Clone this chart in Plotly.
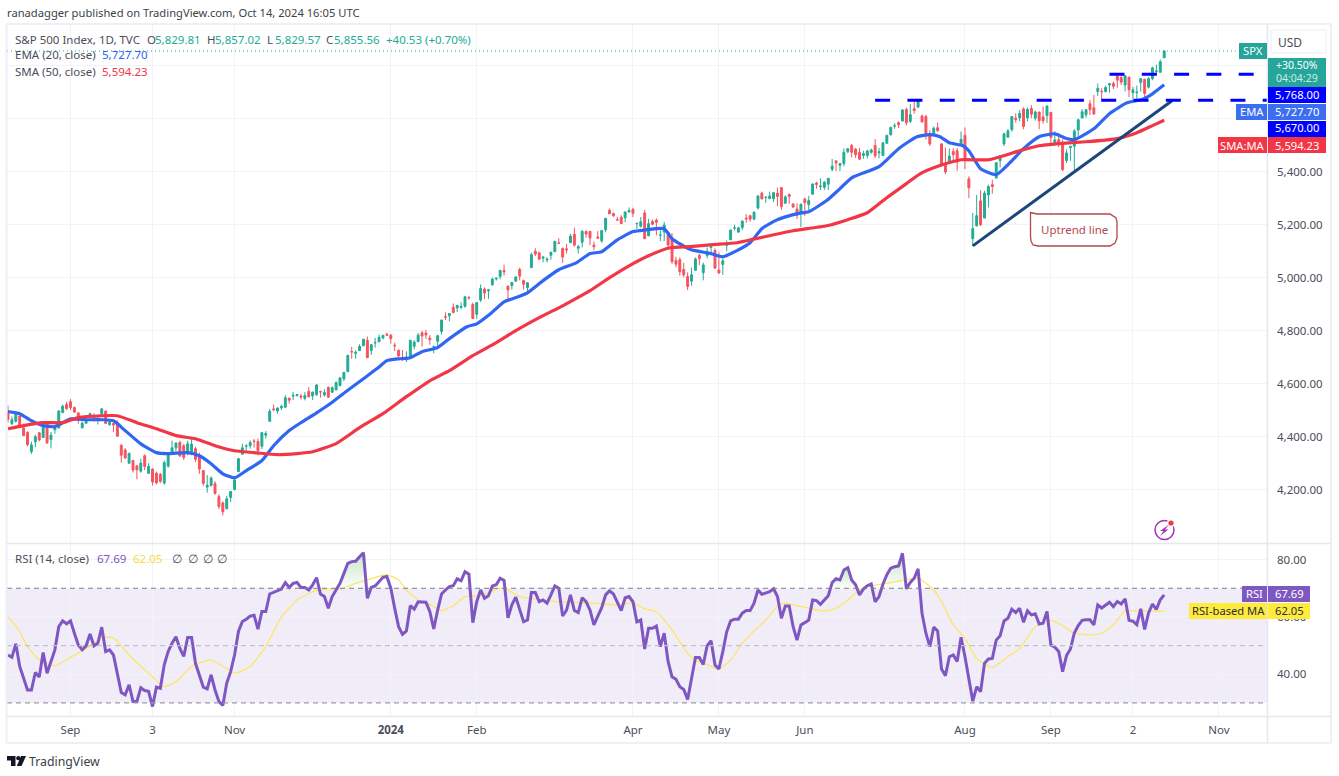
import plotly.graph_objects as go

W, H = 1339, 776
BAR_PX, BAR0_PX = 3.906, 8.0
UP, DOWN = "#22ab94", "#f7525f"
FONT = "Noto Sans"
DARK = "#4a4e59"

opens = [
 4490,4450,4458,4478,4433,4416,4344,4380,4415,4397,4455,4389,4426,4433,4491,4522,
 4532,4510,4490,4434,4451,4480,4473,4463,4487,4497,4445,4450,4453,4368,4350,4300,4310,4290,4270,4328,
 4262,4278,4262,4258,4225,4289,4339,4358,4378,4366,4336,4340,4355,4326,4272,4210,4216,4223,4174,4150,4128,4171,
 4201,4268,4334,4364,4366,4384,4382,4364,4406,4458,4505,4497,4509,4511,4545,4553,4555,4554,4545,4571,4554,
 4559,4570,4557,4586,4568,4577,4593,4618,4646,4721,4714,4725,4743,4764,4725,4754,4758,4773,4786,4783,
 4745,4726,4697,4690,4703,4741,4759,4792,4791,4772,4739,4760,4797,4853,4856,4888,4886,4888,4892,4925,4899,
 4862,4916,4957,4950,4973,4995,5005,5027,4968,4970,4987,5031,4989,4963,5038,5100,5094,5074,5067,5085,
 5098,5131,5110,5109,5132,5164,5111,5134,5174,5175,5123,5154,5139,5181,5254,5242,5219,5228,5226,5248,
 5258,5204,5194,5244,5158,5212,5217,5160,5172,5171,5150,5065,5068,5031,5005,4987,5028,5084,5019,5084,5114,5103,
 5029,5050,5122,5143,5187,5172,5189,5225,5234,5221,5263,5319,5303,5298,5298,5319,5340,5281,5315,5278,5259,5243,
 5297,5276,5315,5357,5343,5341,5353,5409,5441,5424,5431,5476,5499,5485,5473,5461,5461,5473,5499,
 5471,5461,5507,5539,5572,5585,5591,5635,5590,5638,5644,5610,5608,5543,5545,5566,5505,5429,5434,5476,5479,5505,
 5537,5373,5147,5196,5290,5225,5312,5351,5376,5442,5505,5530,5558,5602,5603,5637,5603,5639,5602,5625,5607,5612,
 5624,5506,5521,5508,5442,5491,5496,5557,5603,5615,5656,5641,5703,5703,5702,5727,5733,5762,5755,5727,
 5757,5698,5698,5737,5749,5719,5751,5778,5775,5829.81]
closes = [
 4465,4464,4489,4437,4404,4370,4369,4400,4388,4436,4376,4406,4433,4497,4515,4506,
 4510,4493,4465,4451,4458,4487,4462,4467,4505,4450,4454,4444,4402,4330,4320,4337,4274,4275,4300,4288,
 4288,4229,4226,4232,4302,4336,4358,4376,4327,4322,4373,4372,4314,4278,4224,4217,4244,4186,4137,4117,4166,4193,
 4237,4317,4358,4365,4378,4382,4347,4415,4412,4496,4502,4508,4514,4547,4538,4556,4559,4550,4555,4551,4568,
 4595,4569,4567,4549,4585,4604,4622,4643,4707,4720,4719,4741,4768,4698,4747,4755,4775,4782,4783,4770,
 4743,4705,4689,4697,4764,4757,4783,4780,4784,4766,4740,4781,4840,4851,4865,4869,4895,4891,4928,4924,4846,
 4906,4959,4942,4954,4995,4998,5027,5022,4954,4982,5003,5006,4975,4981,5087,5089,5070,5078,5070,5096,
 5137,5130,5078,5105,5157,5123,5117,5175,5165,5150,5117,5149,5178,5224,5241,5234,5218,5204,5248,5254,
 5243,5205,5211,5147,5204,5202,5209,5161,5199,5123,5061,5051,5022,5011,4967,5011,5071,5072,5048,5100,5116,5036,
 5018,5064,5128,5180,5188,5188,5214,5222,5221,5247,5308,5297,5304,5308,5321,5307,5268,5305,5306,5267,5235,5277,
 5283,5291,5354,5352,5346,5360,5375,5421,5433,5431,5473,5487,5473,5464,5447,5469,5478,5482,5460,
 5475,5509,5537,5567,5573,5577,5633,5585,5615,5631,5667,5588,5544,5505,5564,5555,5427,5399,5459,5464,5436,5522,
 5446,5339,5185,5234,5200,5319,5344,5344,5434,5455,5543,5554,5608,5597,5620,5571,5635,5617,5625,5592,5592,5648,
 5529,5520,5503,5408,5471,5496,5554,5596,5626,5634,5634,5618,5714,5702,5718,5732,5722,5745,5738,5762,
 5709,5709,5700,5751,5695,5751,5792,5780,5815,5855.56]
highs = [
 4517,4476,4490,4478,4449,4421,4381,4408,4418,4443,4458,4418,4440,4500,4521,4532,
 4542,4514,4491,4457,4473,4490,4488,4474,4509,4497,4467,4452,4462,4372,4357,4340,4313,4292,4317,4333,
 4300,4281,4268,4263,4310,4341,4385,4378,4385,4372,4385,4395,4362,4340,4274,4255,4250,4232,4183,4156,4177,4195,
 4245,4320,4373,4372,4386,4391,4393,4418,4421,4505,4521,4511,4521,4557,4548,4569,4560,4561,4568,4587,4570,
 4599,4574,4579,4590,4590,4609,4623,4643,4709,4739,4726,4749,4768,4778,4749,4773,4785,4785,4793,4788,
 4755,4729,4727,4722,4764,4765,4791,4799,4803,4783,4744,4785,4842,4869,4866,4903,4898,4907,4930,4931,4906,
 4906,4975,4963,4958,5000,5000,5030,5049,4971,4983,5005,5038,4993,4983,5094,5111,5098,5080,5077,5098,
 5140,5149,5114,5127,5165,5189,5124,5179,5179,5176,5136,5176,5180,5226,5261,5246,5230,5236,5249,5265,
 5264,5208,5229,5256,5222,5219,5224,5178,5211,5175,5168,5079,5077,5056,5020,5038,5076,5090,5057,5114,5124,5111,
 5096,5073,5140,5181,5200,5192,5215,5240,5238,5250,5312,5325,5305,5325,5324,5340,5342,5311,5315,5282,5281,5280,
 5302,5309,5354,5362,5375,5365,5376,5448,5441,5432,5488,5487,5505,5490,5490,5479,5483,5487,5523,
 5490,5510,5540,5570,5583,5590,5636,5642,5655,5670,5670,5616,5615,5557,5570,5586,5508,5491,5488,5488,5489,5552,
 5567,5383,5245,5312,5330,5328,5351,5370,5436,5463,5547,5561,5608,5620,5633,5643,5642,5651,5631,5627,5646,5649,
 5624,5553,5546,5522,5484,5497,5560,5600,5636,5636,5670,5690,5733,5715,5725,5735,5741,5767,5764,5765,
 5757,5720,5725,5753,5749,5757,5796,5804,5823,5857.02]
lows = [
 4453,4443,4453,4432,4403,4364,4335,4360,4382,4396,4375,4356,4411,4431,4489,4500,
 4501,4490,4449,4431,4448,4468,4457,4446,4475,4448,4442,4417,4401,4302,4316,4298,4265,4239,4264,4274,
 4260,4216,4220,4225,4219,4283,4339,4345,4325,4312,4330,4330,4305,4260,4215,4189,4212,4181,4127,4103,4126,4153,
 4197,4268,4334,4347,4355,4359,4329,4353,4393,4458,4496,4487,4500,4511,4525,4538,4552,4541,4537,4548,4538,
 4554,4547,4551,4546,4565,4574,4590,4610,4643,4694,4694,4725,4743,4697,4709,4736,4758,4767,4780,4751,
 4723,4700,4687,4682,4699,4730,4756,4740,4769,4747,4715,4740,4786,4840,4835,4865,4870,4881,4887,4917,4845,
 4845,4908,4919,4920,4970,4989,4994,5008,4920,4955,4985,4990,4955,4946,5038,5081,5068,5058,5058,5068,
 5097,5127,5056,5091,5132,5117,5091,5114,5151,5123,5104,5148,5131,5171,5240,5229,5216,5203,5209,5246,
 5229,5184,5189,5146,5157,5197,5160,5138,5138,5108,5052,5039,5007,5001,4953,4970,5028,5047,4990,5073,5088,5035,
 5014,5011,5100,5143,5179,5170,5180,5207,5211,5217,5257,5297,5283,5298,5286,5270,5256,5279,5279,5262,5222,5191,
 5234,5256,5314,5336,5331,5331,5331,5402,5403,5403,5420,5470,5455,5452,5446,5449,5450,5468,5451,
 5451,5461,5507,5537,5562,5565,5591,5575,5583,5619,5640,5585,5522,5497,5541,5550,5419,5390,5430,5444,5403,5505,
 5410,5300,5120,5193,5195,5225,5265,5317,5376,5416,5497,5530,5551,5585,5591,5560,5590,5602,5593,5560,5581,5584,
 5504,5504,5493,5402,5434,5441,5406,5535,5601,5604,5614,5615,5686,5674,5700,5698,5712,5717,5727,5703,
 5681,5674,5675,5702,5674,5714,5745,5765,5775,5829.57]
assert len(opens) == len(closes) == len(highs) == len(lows) == 297
bars = list(range(len(closes)))

ema_idx = [0,3,6,9,12,16,20,24,27,30,34,38,41,46,49,52,55,58,61,65,68,72,75,79,83,87,91,94.5,97,100,103,106,110,113,117.5,120,123.5,127,130,133,137,141,145.6,149,152,156,160,163,168,170,174.7,180,183,186.6,190,193,197,202,205,209.6,213,216,223,228,232.7,236,238.6,241,244.5,246,249,253,256.5,260,264,268,271,273,278,282,286.5,290.3,293,296]
ema_val = [4495,4487,4460,4442,4438,4467,4464,4464,4460,4423,4373,4340,4336,4340,4328,4298,4260,4245,4272,4310,4366,4423,4453,4490,4530,4575,4619,4657,4687,4694,4698,4721,4736,4770,4815,4826,4864,4909,4925,4943,4989,5030,5057,5091,5098,5143,5174,5180,5185,5147,5106,5091,5079,5102,5132,5185,5219,5242,5249,5291,5336,5377,5419,5487,5532,5540,5532,5509,5498,5479,5411,5389,5434,5487,5532,5543,5525,5521,5562,5619,5660,5672,5694,5727.7]
sma_idx = [0,4,9,14,18,24,28,33,38,43,48,53,58,63,69,74,78,84,90,96,102,108,113,119,125,130,136,142,149,154,159,164,169.5,174.6,180.5,186.6,196,201,209.6,215,220,225,230,233.5,238.6,244,251,259,264,269,276,284,289,293,296]
sma_val = [4430,4442,4453,4453,4472,4479,4479,4453,4430,4404,4392,4366,4347,4340,4332,4336,4343,4374,4434,4487,4551,4611,4649,4706,4755,4800,4849,4894,4951,5000,5045,5083,5113,5117,5125,5132,5162,5177,5196,5219,5245,5302,5355,5392,5423,5445,5445,5479,5498,5506,5513,5525,5547,5574,5594.23]

rsi = [
 46.7,45.9,50.6,42.7,38.6,34.5,34.5,40.6,39,47.6,40.3,44.8,48.5,56.6,58.6,57.6,58.6,54.3,50.2,48.5,
 49.9,54,49.9,50.8,56.4,47.9,48.5,46.7,40.3,33.6,32.8,36.3,30.5,30.5,35.3,34.3,34,28.7,35.5,35.1,
 43.3,47.9,50.8,53.1,49,46.2,52.8,52.8,43.8,39.8,35.5,34.9,39.8,34.5,30.5,29.1,36.9,40.9,46.7,54.9,
 58.4,59.2,60.3,60.6,55.7,61.9,61.9,68,68.6,69.1,69.7,72,70.3,71.7,72,70.3,70.3,69.4,71.2,73.7,
 68,67.1,63,67.1,69.4,71.7,75.2,78.7,79.3,79.4,81,82.4,66.5,70.3,70.8,72.3,73.8,74.1,70,63,
 56.6,53.9,55.1,63.9,62.7,65.3,65.1,65.1,61.8,55.8,62.4,68,69.4,70.6,70.9,73.3,72.6,75.8,74.9,58,
 65.3,69.4,66.5,67.4,70.8,71.2,73.5,72.7,59.7,64.2,66.9,62.4,58.3,58.9,68.5,68.5,65.3,65.9,64.8,67.7,
 70.8,70,60.3,62.4,67.7,62.2,61.5,66.7,65.3,62.4,57.2,60.3,63.2,67.7,69.1,68,65.3,62.2,66.7,67.1,
 65.3,58.3,58.9,48.8,56,56,56.8,49.6,54.3,44.4,39.1,38.2,35.6,34.7,31.2,38.5,45.8,45.8,43.4,50,
 51.7,43.2,41.8,47.9,54.8,58.6,59.2,59.2,61.3,62.2,62.2,64.8,69.4,67.9,68.3,68.8,69.8,67.1,59.5,63.8,
 63.8,56.6,51.9,57.2,58,58.9,65.9,65.7,64.4,65.9,67.4,72,73.3,72.9,76.4,77.2,72.9,71.2,67.7,69.7,
 70.9,71.5,65.3,67.1,71.4,74.7,77,77.5,77.8,82.2,69.8,72,73.5,76.8,61.3,54.3,49.6,56.4,55.1,41.8,
 39.5,46.1,46.7,44.4,52.9,46.1,38.5,30.6,35.6,33.9,43.8,45.3,45.5,51.9,53.4,58.6,59.5,62.7,61.5,63,
 58.1,62.1,60.7,61.1,57.5,57.8,61.9,50.2,49.4,47.9,40.9,46.5,48.8,54.4,57,58.8,59,59,57.2,64.2,
 63.1,64.2,65.1,63.6,65.4,64.5,66.3,58.8,58.5,57.3,62.8,55.6,61.4,64.5,62.6,66,67.69]
assert len(rsi) == 297
rsi_ma_idx = [0,3,5,8,12,16,20,24,27,31,36,40,43,47,52,56,58,62,66,70,74,78,82,85,89,92,97,100,102,105,108,111,114,117,120,123,126,128,131,135,140,145,150,155,160,163,166,170,174,176,179,182,185,188,191,194,197,199,201,205,209,212,215,218,221,225,229,233,237,239,242,245,248,252,256,259,263,266,269,273,277,280,283,286,290,296]
rsi_ma_val = [60.1,54.9,49.6,45,42.9,45.9,49,52.8,52.6,46.7,40.3,35.7,37.4,42.7,45,42,40.3,42.7,49.6,60,65.9,68.8,69.7,69.7,71.7,72.9,74.7,72.9,69.4,65.9,64.4,62.2,63.9,67.1,67.3,68.5,70,69.4,67.1,66.3,65.3,65.1,64.8,64.2,64.8,62.8,61.8,55.4,47.3,44.9,43.4,41.7,44.9,50.8,55.1,58.9,63.7,64.8,64.2,63,62.1,63,65.9,69.4,70.9,71.7,72.7,73.5,69.4,65.3,57.2,52.5,45.5,42.3,46.1,49,56.6,58.9,57.8,54.3,53.7,54.3,57.2,62.1,62,62.05]

tick_idx = [16,37,58,98,120,160,182,204,245,267,288,310]
tick_text = ["Sep","3","Nov","<b>2024</b>","Feb","Apr","May","Jun","Aug","Sep","2","Nov"]
price_ticks = [4200,4400,4600,4800,5000,5200,5400,5600,5800]
price_tick_text = ["4,200.00","4,400.00","4,600.00","4,800.00","5,000.00","5,200.00","5,400.00","",""]
rsi_ticks = [40,60,80]
support_levels = [5670,5768]
support_start = [222,282]
trend_idx = [247,298]
trend_val = [5120,5668]
overbought_spans = [(85,91),(211,217),(225,229)]

PRICE_Y, PRICE_PX_PER_UNIT = 171.7, 0.265
RSI_Y, RSI_PX_PER_UNIT = 559.6, 2.865
price_at = lambda py: 5400 + (PRICE_Y - py) / PRICE_PX_PER_UNIT
rsi_at = lambda py: 80 + (RSI_Y - py) / RSI_PX_PER_UNIT
bar_at = lambda px: (px - BAR0_PX) / BAR_PX
X_END = bar_at(1267)
X_START = bar_at(7)

fig = go.Figure()
fig.add_trace(go.Candlestick(x=bars, open=opens, high=highs, low=lows, close=closes,
    increasing=dict(line=dict(color=UP, width=1), fillcolor=UP),
    decreasing=dict(line=dict(color=DOWN, width=1), fillcolor=DOWN),
    whiskerwidth=0, xaxis="x", yaxis="y", showlegend=False, hoverinfo="skip"))
fig.add_trace(go.Scatter(x=[X_START, X_END], y=[closes[-1]]*2, mode="lines",
    line=dict(color=UP, width=1, dash="1px,3px"), hoverinfo="skip"))
fig.add_trace(go.Scatter(x=ema_idx, y=ema_val, mode="lines",
    line=dict(color="#2f66f2", width=3.2, shape="spline", smoothing=0.5), hoverinfo="skip"))
fig.add_trace(go.Scatter(x=sma_idx, y=sma_val, mode="lines",
    line=dict(color="#f23645", width=3.2, shape="spline", smoothing=0.5), hoverinfo="skip"))
fig.add_trace(go.Scatter(x=trend_idx, y=trend_val, mode="lines",
    line=dict(color="#1c4679", width=3), hoverinfo="skip"))
for lvl, start in zip(support_levels, support_start):
    fig.add_trace(go.Scatter(x=[start, X_END], y=[lvl, lvl], mode="lines",
        line=dict(color="#0000ff", width=3, dash="15px,17.3px"), hoverinfo="skip"))

for a, b in overbought_spans:
    xs = bars[a:b+1]
    ys = [max(v, 70) for v in rsi[a:b+1]]
    fig.add_trace(go.Scatter(x=xs + xs[::-1], y=ys + [70]*len(xs), mode="lines", fill="toself",
        line=dict(width=0), xaxis="x2", yaxis="y2", hoverinfo="skip",
        fillgradient=dict(type="vertical",
            colorscale=[[0, "rgba(76,175,80,0.02)"], [1, "rgba(76,175,80,0.32)"]])))
fig.add_trace(go.Scatter(x=rsi_ma_idx, y=rsi_ma_val, mode="lines", xaxis="x2", yaxis="y2",
    line=dict(color="#fde567", width=1.3, shape="spline", smoothing=0.5), hoverinfo="skip"))
fig.add_trace(go.Scatter(x=bars, y=rsi, mode="lines", xaxis="x2", yaxis="y2",
    line=dict(color="#7e57c2", width=3), hoverinfo="skip"))

px_x = lambda p: p / W
px_y = lambda p: 1 - p / H
shapes, annos = [], []

def rect(x0, y0, x1, y1, fill, line=None, layer="above", lw=1):
    shapes.append(dict(type="rect", xref="paper", yref="paper", layer=layer,
        x0=px_x(x0), x1=px_x(x1), y0=px_y(y0), y1=px_y(y1), fillcolor=fill,
        line=dict(color=line or fill, width=lw if line else 0)))

def text(x, y, s, color=DARK, size=11.5, anchor="left", family=FONT):
    annos.append(dict(xref="paper", yref="paper", x=px_x(x), y=px_y(y), text=s, showarrow=False,
        xanchor=anchor, yanchor="middle", borderpad=0, borderwidth=0,
        font=dict(family=family, size=size, color=color)))

def path(points, fill, close=True):
    d = "M" + " L".join(f"{px_x(a):.6f},{px_y(b):.6f}" for a, b in points) + (" Z" if close else "")
    shapes.append(dict(type="path", xref="paper", yref="paper", path=d, fillcolor=fill, line=dict(width=0), layer="above"))

def circle(cx, cy, r, fill, line=None, lw=0):
    shapes.append(dict(type="circle", xref="paper", yref="paper", layer="above",
        x0=px_x(cx-r), x1=px_x(cx+r), y0=px_y(cy+r), y1=px_y(cy-r), fillcolor=fill,
        line=dict(color=line or fill, width=lw)))

# frame and separators
rect(7, 588.2, 1267, 702.8, "rgba(126,87,194,0.11)", layer="below")
for lv, col in ((70, "#7c7f8a"), (50, "#c2c4cc"), (30, "#9a9ca6")):
    shapes.append(dict(type="line", xref="paper", yref="y2", x0=px_x(7), x1=px_x(1267), y0=lv, y1=lv,
        layer="above", line=dict(color=col, width=1.2, dash="5px,4px")))
for (a, b, c, d) in ((6.5, 24, 6.5, 743), (6.5, 24, 1331, 24), (1331, 24, 1331, 743), (6.5, 743, 1331, 743)):
    shapes.append(dict(type="line", xref="paper", yref="paper", x0=px_x(a), x1=px_x(c), y0=px_y(b), y1=px_y(d),
        line=dict(color="#eef0f5", width=2), layer="above"))
for (a, b, c, d) in ((1267.5, 24, 1267.5, 743), (6.5, 543.5, 1331, 543.5), (6.5, 716.5, 1331, 716.5)):
    shapes.append(dict(type="line", xref="paper", yref="paper", x0=px_x(a), x1=px_x(c), y0=px_y(b), y1=px_y(d),
        line=dict(color="#e6e8ef", width=1.5), layer="above"))

# header and legends
text(7, 12.5, "ranadagger published on TradingView.com, Oct 14, 2024 16:05 UTC", "#3c3f48", 11.2)
text(15, 39, "S&amp;P 500 Index, 1D, TVC")
for x, label, val in ((147, "O", "5,829.81"), (207, "H", "5,857.02"), (267, "L", "5,829.57"), (326, "C", "5,855.56")):
    text(x, 39, label)
    text(x + 8, 39, val, UP)
text(386, 39, "+40.53 (+0.70%)", UP)
text(15, 55, "EMA (20, close)")
text(102, 55, "5,727.70", "#2962ff")
text(15, 71.5, "SMA (50, close)")
text(102, 71.5, "5,594.23", "#f23645")
text(15, 558, "RSI (14, close)")
text(97, 558, "67.69", "#7e57c2")
text(133, 558, "62.05", "#f5dc45")
for x in (172, 188, 203, 217):
    text(x, 558, "∅", DARK)

# right-hand badges
C = "center"
B = 11.2
rect(1239, 43, 1267, 59, "#26a69a"); text(1253, 51, "SPX", "#ffffff", B, C)
rect(1271, 30, 1326, 53, "#ffffff", "#eceef3"); text(1290, 42, "USD", DARK, 12, C)
rect(1268, 58, 1326, 87, "#26a69a")
text(1297, 65, "+30.50%", "#ffffff", 10.5, C); text(1297, 78.5, "04:04:29", "#cfeae6", 10.5, C)
rect(1268, 87, 1326, 103, "#0000ff"); text(1297, 94.5, "5,768.00", "#ffffff", B, C)
rect(1236, 104, 1267, 120, "#3b6ff0"); text(1251.5, 111.5, "EMA", "#ffffff", B, C)
rect(1268, 104, 1326, 120, "#3b6ff0"); text(1297, 111.5, "5,727.70", "#ffffff", B, C)
rect(1268, 121, 1326, 137, "#0000ff"); text(1297, 128, "5,670.00", "#ffffff", B, C)
rect(1218, 137, 1267, 153, "#f23645"); text(1242.5, 145, "SMA:MA", "#ffffff", B, C)
rect(1268, 137, 1326, 153, "#f23645"); text(1297, 145, "5,594.23", "#ffffff", B, C)
rect(1242, 586, 1267, 602, "#7e57c2"); text(1254.5, 593.5, "RSI", "#ffffff", B, C)
rect(1268, 586, 1310, 602, "#7e57c2"); text(1289, 593.5, "67.69", "#ffffff", B, C)
rect(1189, 603, 1267, 619, "#ffeb3b"); text(1228, 610.5, "RSI-based MA", "#2a2e39", B, C)
rect(1268, 603, 1310, 619, "#ffeb3b"); text(1289, 610.5, "62.05", "#2a2e39", B, C)

# uptrend callout
shapes.append(dict(type="path", xref="paper", yref="paper", layer="above", fillcolor="#ffffff",
    line=dict(color="#b4474d", width=1.3),
    path="M" + " L".join(f"{px_x(a):.6f},{px_y(b):.6f}" for a, b in [
        (1030.5,212.5),(1037,214),(1110,214),(1116,218),(1117,222),(1117,238),(1115,243),(1110,246),
        (1038,246),(1033,245),(1031,241),(1030.5,236)]) + " Z"))
text(1074, 229, "Uptrend line", "#b4474d", 11.5, C)

# lightning icon
circle(1164.5, 530, 9.5, "#ffffff", "#a233b8", 1.5)
circle(1171, 523, 4, "#ffffff")
circle(1171, 523, 2.6, "#f23645")
path([(1169,524.5),(1160,531),(1163.5,531),(1160,536),(1168.5,529.5),(1165,529.5)], "#a233b8")

# logo
path([(7,756),(15.5,756),(15.5,766),(11,766),(11,760.5),(7,760.5)], "#131722")
circle(18.3, 758.2, 2.1, "#131722")
path([(21,756),(26,756),(21.5,766),(16.8,766)], "#131722")
text(29, 761, "TradingView", "#3c3f48", 12.3)

grid = "#f2f3f7"
fig.update_layout(
    width=W, height=H, margin=dict(l=0, r=0, t=0, b=0), showlegend=False,
    paper_bgcolor="#ffffff", plot_bgcolor="#ffffff", shapes=shapes, annotations=annos,
    xaxis=dict(domain=[px_x(7), px_x(1267)], range=[X_START, X_END], rangeslider=dict(visible=False),
        showticklabels=False, tickmode="array", tickvals=tick_idx, showgrid=True, gridcolor=grid,
        zeroline=False, ticks="", showline=False, anchor="y"),
    yaxis=dict(domain=[px_y(543.5), px_y(24)], range=[price_at(543.5), price_at(24)], side="right",
        tickmode="array", tickvals=price_ticks, ticktext=price_tick_text, gridcolor=grid, zeroline=False,
        ticklabelstandoff=9, tickfont=dict(family=FONT, size=11.5, color=DARK), anchor="x", showline=False),
    xaxis2=dict(domain=[px_x(7), px_x(1267)], range=[X_START, X_END], tickmode="array", tickvals=tick_idx,
        ticktext=tick_text, showgrid=True, gridcolor=grid, zeroline=False, ticks="", ticklabelstandoff=5,
        ticklen=0, tickfont=dict(family=FONT, size=11.5, color=DARK), anchor="y2", showline=False),
    yaxis2=dict(domain=[px_y(716.5), px_y(544)], range=[rsi_at(716.5), rsi_at(544)], side="right",
        tickmode="array", tickvals=rsi_ticks, tickformat=".2f", gridcolor=grid, zeroline=False,
        ticklabelstandoff=9, tickfont=dict(family=FONT, size=11.5, color=DARK), anchor="x2", showline=False),
)
fig.write_html("out.html", config=dict(displayModeBar=False),
               post_script="document.body.style.margin='0';document.body.style.overflow='hidden';")
